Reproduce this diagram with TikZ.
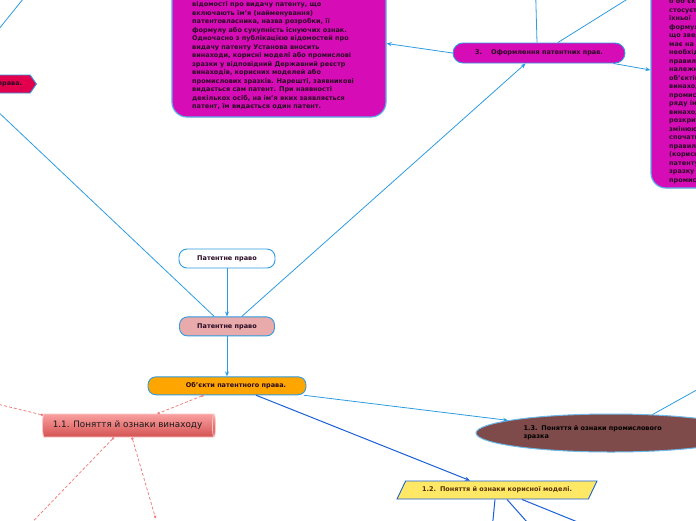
\documentclass[tikz,border=0pt]{standalone}
\usepackage{fontspec}
\setmainfont{DejaVu Sans}
\usetikzlibrary{shapes.geometric,shapes.symbols,arrows.meta,positioning,fit}
\definecolor{mmblue}{RGB}{45,155,225}
\definecolor{mmdeep}{RGB}{25,95,215}
\definecolor{mmmagenta}{RGB}{214,12,182}
\definecolor{mmrose}{RGB}{226,0,78}
\definecolor{mmpink}{RGB}{232,170,170}
\definecolor{mmorange}{RGB}{255,165,0}
\definecolor{mmbrown}{RGB}{126,74,74}
\definecolor{mmyellow}{RGB}{255,232,102}
\definecolor{mmsalmon}{RGB}{240,128,128}
\definecolor{mmtubetop}{RGB}{250,160,160}
\definecolor{mmtubebot}{RGB}{212,82,82}
\definecolor{mmink}{RGB}{40,10,35}
\definecolor{mmumber}{RGB}{85,50,10}
\tikzset{
	topicbox/.style={rectangle, rounded corners=8pt, draw=mmblue, line width=0.9pt,
		minimum height=19pt, font=\fontsize{6.5}{8}\selectfont\bfseries, text=mmink, inner sep=2pt},
	notebox/.style={rectangle, rounded corners=15pt, draw=mmblue!80, line width=1.2pt,
		fill=mmmagenta, inner sep=0pt},
	notetext/.style={align=left, inner sep=0pt, font=\fontsize{6.5}{8.5}\selectfont\bfseries, text=mmink},
	subjbox/.style={signal, signal to=east, signal pointer angle=110, fill=mmrose, draw=mmblue,
		line width=0.9pt, minimum height=18pt, inner xsep=8pt,
		font=\fontsize{6.5}{8}\selectfont\bfseries, text=mmink},
	tubebox/.style={cylinder, shape border rotate=0, aspect=0.2, minimum height=173pt,
		minimum width=23pt, draw=mmtubetop!60!white, line width=0.8pt, top color=mmtubetop,
		bottom color=mmtubebot, font=\fontsize{8.8}{10}\selectfont, text=black!90},
	mmarr/.style={-{Stealth[length=5pt,width=4pt]}, draw=mmblue, line width=0.8pt},
	deeparr/.style={-{Stealth[length=5pt,width=4pt]}, draw=mmdeep, line width=1pt},
	dotline/.style={{Circle[length=2.5pt]}-{Circle[length=2.5pt]}, draw=mmsalmon,
		line width=0.8pt, dash pattern=on 3pt off 2pt}
}
\begin{document}
\begin{tikzpicture}[x=1pt, y=-1pt]
	\useasboundingbox (0,0) rectangle (696,520);
	\clip (0,0) rectangle (696,520);
	% central part
	\node[topicbox, fill=white, minimum width=96pt] (pravotop) at (227,258.5) {Патентне право};
	\node[topicbox, fill=mmpink, minimum width=95pt, below=48pt of pravotop] (pravo) {Патентне право};
	\node[topicbox, fill=mmorange, minimum width=158pt, minimum height=18pt, below=40pt of pravo] (obiekty) {\hspace{18pt}Об'єкти патентного права.};
	\node[topicbox, fill=mmmagenta, minimum width=172pt, minimum height=20pt, rounded corners=10pt] (oform) at (539,53) {3.\hspace{9pt}Оформлення патентних прав.};
	\node[subjbox, anchor=east] (subj) at (37,84) {2.\hspace{9pt}Суб'єкти патентного права.};
	% notes
	\node[notebox, fit={(172,-30) (386,117)}] (opys) {};
	\node[notetext, anchor=north west] (opystext) at (192,1.5) {відомості про видачу патенту, що\\
		включають ім'я (найменування)\\
		патентовласника, назва розробки, її\\
		формулу або сукупність існуючих ознак.\\
		Одночасно з публікацією відомостей про\\
		видачу патенту Установа вносить\\
		винаходи, корисні моделі або промислові\\
		зразки у відповідний Державний реєстр\\
		винаходів, корисних моделей або\\
		промислових зразків. Нарешті, заявникові\\
		видається сам патент. При наявності\\
		декількох осіб, на ім'я яких заявляється\\
		патент, їм видається один патент.};
	\node[notebox, fit={(651,-48) (760,188)}] (pravyla) {};
	\node[notetext, anchor=north west] (pravylatext) at (669,-1.5) {о об'єкта\\
		стосується\\
		їхньої\\
		формули,\\
		що звернення\\
		має на меті\\
		необхідність\\
		правильного\\
		належності\\
		об'єктів\\
		винаходів\\
		промислових\\
		ряду інших\\
		винаходу\\
		розкриття\\
		змінюючи\\
		спочатку\\
		правильно\\
		(корисної\\
		патенту\\
		зразку\\
		промислового};
	% subtopics
	\node[tubebox] (vynakhid) at (127.5,425.5) {1.1. Поняття й ознаки винаходу};
	\node[ellipse, draw=mmblue!70, line width=1pt, fill=mmbrown, minimum width=270pt,
		minimum height=38pt, text width=175pt, align=left,
		font=\fontsize{6.5}{8}\selectfont\bfseries, text=black] (zrazok) at (611,433)
		{1.3.\hspace{4pt}Поняття й ознаки промислового\\зразка};
	\node[trapezium, trapezium left angle=61, trapezium right angle=119, trapezium stretches=true,
		draw=mmdeep, line width=0.9pt, fill=mmyellow, minimum height=18pt, minimum width=200pt,
		inner xsep=2pt, font=\fontsize{6.5}{8}\selectfont\bfseries, text=mmumber] (model) at (497,490)
		{1.2.\hspace{4pt}Поняття й ознаки корисної моделі.};
	% free ends
	\coordinate (vyshche) at (44,-27);
	\coordinate (oformA) at (535,-30);
	\coordinate (oformB) at (674,-30);
	\coordinate (zrazokA) at (720,377);
	\coordinate (modelA) at (491,540);
	\coordinate (modelB) at (543,540);
	\coordinate (modelC) at (622,540);
	\coordinate (vynakhidA) at (-40,395);
	\coordinate (vynakhidB) at (15,540);
	\coordinate (vynakhidC) at (155.5,518);
	% connectors
	\draw[mmarr] (pravotop) -- (pravo);
	\draw[mmarr] (pravo) -- (obiekty);
	\draw[mmarr] (pravo.34) -- (oform.218);
	\draw[mmarr] (pravo.142) -- (subj.-30);
	\draw[mmarr] (subj.north) -- (vyshche);
	\draw[mmarr] (oform.west) -- (opys.east);
	\draw[mmarr] (oform.-8) -- (pravyla.west);
	\draw[mmarr] ([xshift=-2pt]oform.north) -- (oformA);
	\draw[mmarr] (oform.29) -- (oformB);
	\draw[mmarr] (obiekty.-7) -- (zrazok.173);
	\draw[mmarr] (zrazok.24) -- (zrazokA);
	\draw[deeparr] (obiekty.-18) -- ([xshift=-27pt]model.north);
	\draw[deeparr] ([xshift=-2pt]model.south) -- (modelA);
	\draw[deeparr] ([xshift=10pt]model.south) -- (modelB);
	\draw[deeparr] ([xshift=25pt]model.south) -- (modelC);
	\draw[dotline] (obiekty.202) -- ([xshift=30pt]vynakhid.north);
	\draw[dotline] (vynakhid.173) -- (vynakhidA);
	\draw[dotline] ([xshift=-13.5pt]vynakhid.south) -- (vynakhidB);
	\draw[dotline] ([xshift=4.5pt]vynakhid.south) -- (vynakhidC);
\end{tikzpicture}
\end{document}
